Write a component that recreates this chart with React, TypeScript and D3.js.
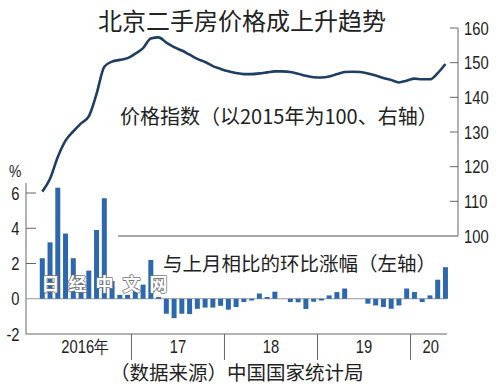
import React from "react";
import * as d3 from "d3";

// 月度数据：2016年1月 ~ 2020年5月
const yearLabels = ["2016年", "17", "18", "19", "20"];

// 与上月相比的环比涨幅（%，左轴）
const momChange = [
  2.3, 3.2, 6.3, 3.7, 2.3, 1.3, 1.6, 3.9, 5.7, 1.0, 0.22, 0.22,
  0.6, 0.8, 2.2, 0.1, -0.85, -1.1, -0.85, -0.87, -0.57, -0.5, -0.5, -0.4,
  -0.62, -0.47, -0.19, -0.1, 0.3, 0.1, 0.4, 0.0, -0.19, -0.2, -0.58, -0.17,
  -0.1, 0.19, 0.38, 0.58, 0.0, 0.0, -0.28, -0.38, -0.47, -0.57, -0.38, 0.58,
  0.38, -0.19, 0.19, 1.08, 1.79,
];

// 价格指数（2015年=100，右轴）
const priceIndex = [
  112.8, 116.5, 122.8, 127.5, 130.2, 132.5, 134.5, 141.0, 148.8, 150.3, 150.8, 151.3,
  152.6, 154.2, 157.0, 157.3, 155.8, 154.5, 153.5, 152.3, 151.1, 150.2, 149.0, 148.2,
  147.5, 147.0, 146.7, 146.7, 146.9, 147.2, 147.5, 147.5, 147.3, 146.8, 146.2, 145.8,
  145.7, 146.0, 146.7, 147.3, 147.4, 147.3, 146.9, 146.3, 145.6, 145.0, 144.3, 144.8,
  145.4, 145.2, 145.2, 147.0, 149.6,
];

const leftTicks = [-2, 0, 2, 4, 6];
const rightTicks = [100, 110, 120, 130, 140, 150, 160];

const W = 500;
const H = 386;
const numFont = "'Liberation Sans', Arial, sans-serif";
const cjkFont = "'Noto Sans CJK SC', 'Noto Sans', sans-serif";
const textColor = "#222";
const axisColor = "#666";

const Narrow = ({ x, y, anchor = "start", size = 18, children }: any) => (
  <text
    transform={`translate(${x},${y}) scale(0.82,1)`}
    textAnchor={anchor}
    fontFamily={numFont}
    fontSize={size}
    fill={textColor}
  >
    {children}
  </text>
);

export default function App() {
  const x = d3.scaleLinear().domain([-2.1, 52.2]).range([26, 447]);
  const yL = d3.scaleLinear().domain([-2, 6]).range([334, 193]);
  const yR = d3.scaleLinear().domain([100, 160]).range([236, 28]);

  const line = d3
    .line<number>()
    .x((d, i) => x(i))
    .y((d) => yR(d))
    .curve(d3.curveMonotoneX);

  const barW = 5;
  // year boundaries sit between Dec and Jan
  const seps = [11.5, 23.5, 35.5, 47.5];
  const yearMid = yearLabels.map((_, k) =>
    k < 4 ? x(5.5 + 12 * k) : (x(47.5) + x(52.2)) / 2 + 2
  );

  return (
    <svg
      width={W}
      height={H}
      style={{ position: "absolute", left: 0, top: 0, background: "#fff" }}
    >
      {/* title */}
      <text x={98} y={30} fontFamily={cjkFont} fontSize={24} fill={textColor}>
        北京二手房价格成上升趋势
      </text>

      {/* right axis */}
      <line x1={458} x2={458} y1={yR(160)} y2={yR(100)} stroke={axisColor} />
      <line x1={118} x2={458} y1={yR(100)} y2={yR(100)} stroke="#555" />
      {rightTicks.map((t) => (
        <g key={t}>
          {t > 100 && (
            <line x1={450} x2={458} y1={yR(t)} y2={yR(t)} stroke={axisColor} />
          )}
          <Narrow x={464} y={yR(t) + 6.5}>
            {t}
          </Narrow>
        </g>
      ))}

      {/* left axis */}
      <line x1={26} x2={26} y1={183} y2={yL(-2)} stroke={axisColor} />
      <line x1={26} x2={447} y1={yL(-2)} y2={yL(-2)} stroke={axisColor} />
      <line x1={26} x2={447} y1={yL(0)} y2={yL(0)} stroke="#999" />
      {leftTicks.map((t) => (
        <g key={t}>
          {t > 0 && (
            <line x1={26} x2={36} y1={yL(t)} y2={yL(t)} stroke={axisColor} />
          )}
          <Narrow x={19.5} y={yL(t) + 6.5} anchor="end">
            {t}
          </Narrow>
        </g>
      ))}
      <Narrow x={9} y={177} size={17}>
        %
      </Narrow>

      {/* bars */}
      {momChange.map((v, i) => (
        <rect
          key={i}
          x={x(i) - barW / 2}
          y={yL(Math.max(0, v))}
          width={barW}
          height={Math.abs(yL(v) - yL(0))}
          fill="#2d68ae"
        />
      ))}

      {/* price index line */}
      <path
        d={line(priceIndex) || ""}
        fill="none"
        stroke="#1e3e62"
        strokeWidth={2.6}
        strokeLinejoin="round"
      />

      {/* x axis years */}
      {seps.map((s) => (
        <line
          key={s}
          x1={x(s)}
          x2={x(s)}
          y1={yL(-2)}
          y2={360}
          stroke={axisColor}
        />
      ))}
      {yearLabels.map((l, k) => (
        <Narrow key={l} x={yearMid[k]} y={353} anchor="middle">
          {l}
        </Narrow>
      ))}

      {/* annotations */}
      <text x={120} y={124} fontFamily={cjkFont} fontSize={20} fill={textColor}>
        价格指数（以2015年为100、右轴）
      </text>
      <text x={163} y={271} fontFamily={cjkFont} fontSize={19.5} fill={textColor}>
        与上月相比的环比涨幅（左轴）
      </text>
      <text x={110} y={380} fontFamily={cjkFont} fontSize={19.5} fill={textColor}>
        （数据来源）中国国家统计局
      </text>

      {/* watermark */}
      <text
        x={41.5}
        y={291}
        fontFamily={cjkFont}
        fontSize={18}
        fontWeight="bold"
        letterSpacing={9}
        fill="#fff"
        stroke="#777"
        strokeWidth={1.6}
        strokeLinejoin="round"
        paintOrder="stroke"
      >
        日经中文网
      </text>
    </svg>
  );
}
